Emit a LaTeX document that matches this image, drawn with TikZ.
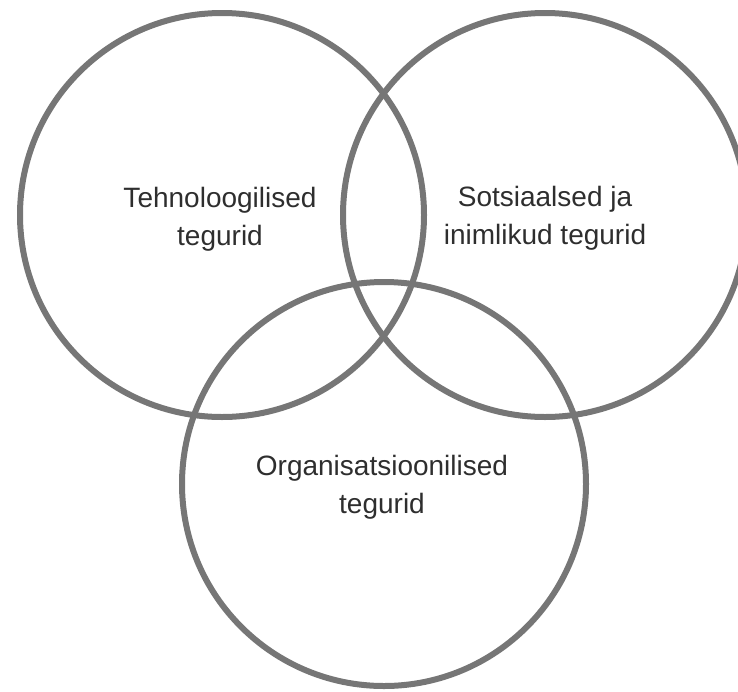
\documentclass[tikz,border=0pt]{standalone}
\usepackage{fontspec}
\setmainfont{Liberation Sans}
\definecolor{ringgray}{HTML}{767676}
\definecolor{labelgray}{HTML}{2E2E2E}
\begin{document}
\begin{tikzpicture}[x=1pt,y=-1pt,
  ring/.style={draw=ringgray,line width=6pt},
  label/.style={align=center,text=labelgray,font=\fontsize{28}{38}\selectfont,inner sep=0pt,anchor=base}]
\useasboundingbox (0,0) rectangle (738,691);
\clip (0,0) rectangle (738,691);
\coordinate (cl) at (222,215);
\coordinate (cr) at (545,215);
\coordinate (cb) at (384,484);
\draw[ring] (cl) circle [radius=202pt];
\draw[ring] (cr) circle [radius=202pt];
\draw[ring] (cb) circle [radius=202pt];
\node[label] (tech) at (220,245) {Tehnoloogilised\\tegurid};
\node[label] (soc) at (545,244) {Sotsiaalsed ja\\inimlikud tegurid};
\node[label] (org) at (382,513) {Organisatsioonilised\\tegurid};
\end{tikzpicture}
\end{document}
